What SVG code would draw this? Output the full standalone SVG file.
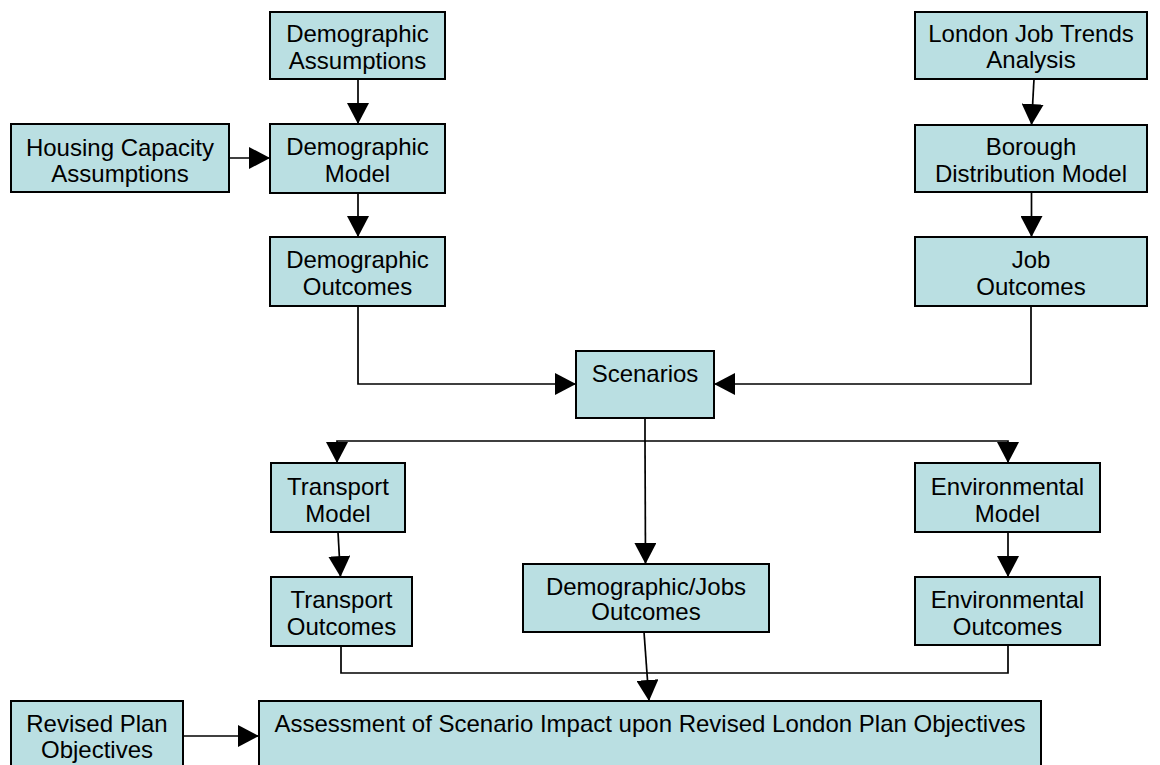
<svg xmlns="http://www.w3.org/2000/svg" width="1160" height="765" viewBox="0 0 1160 765">
<style>
.box{fill:#BADFE2;stroke:#000;stroke-width:2}
.t{font-family:"Liberation Sans",Arial,sans-serif;font-size:24px;fill:#000;text-anchor:middle}
.c{fill:none;stroke:#000;stroke-width:1.7}
.a{marker-end:url(#arr)}
</style>
<defs>
<marker id="arr" markerUnits="userSpaceOnUse" markerWidth="22" markerHeight="22" refX="21" refY="11" orient="auto">
<path d="M0,0 L21,11 L0,22 Z" fill="#000"/>
</marker>
</defs>
<rect width="1160" height="765" fill="#fff"/>
<g id="connectors">
<path class="c a" d="M358,79 L358,124"/>
<path class="c a" d="M229,158 L270,158"/>
<path class="c a" d="M358,193 L358,237"/>
<path class="c a" d="M1034,79 L1031.5,125"/>
<path class="c a" d="M1031.5,192 L1031.5,237"/>
<path class="c a" d="M358,306 L358,384 L576,384"/>
<path class="c a" d="M1031,306 L1031,384 L714,384"/>
<path class="c a" d="M645,418 L645,441 L337,441 L337,463"/>
<path class="c a" d="M645,441 L1008,441 L1008,463"/>
<path class="c a" d="M645,441 L645.5,564"/>
<path class="c a" d="M338,532 L340.5,577"/>
<path class="c a" d="M1008,532 L1008,577"/>
<path class="c" d="M341,646 L341,673 L1008,673 L1008,645"/>
<path class="c a" d="M644,632 L649,701"/>
<path class="c a" d="M183,736 L259,736"/>
</g>
<g id="demographic-assumptions"><rect class="box" x="270" y="12" width="175" height="67"/><text class="t" x="357.5" y="42">Demographic</text><text class="t" x="357.5" y="69">Assumptions</text></g>
<g id="housing-capacity"><rect class="box" x="11" y="124" width="218" height="68"/><text class="t" x="120" y="156">Housing Capacity</text><text class="t" x="120" y="182">Assumptions</text></g>
<g id="demographic-model"><rect class="box" x="270" y="124" width="175" height="69"/><text class="t" x="357.5" y="155">Demographic</text><text class="t" x="357.5" y="182">Model</text></g>
<g id="demographic-outcomes"><rect class="box" x="270" y="237" width="175" height="69"/><text class="t" x="357.5" y="268">Demographic</text><text class="t" x="357.5" y="295">Outcomes</text></g>
<g id="london-job-trends"><rect class="box" x="915" y="12" width="232" height="67"/><text class="t" x="1031" y="42">London Job Trends</text><text class="t" x="1031" y="68">Analysis</text></g>
<g id="borough-distribution"><rect class="box" x="915" y="125" width="232" height="67"/><text class="t" x="1031" y="155">Borough</text><text class="t" x="1031" y="182">Distribution Model</text></g>
<g id="job-outcomes"><rect class="box" x="915" y="237" width="232" height="69"/><text class="t" x="1031" y="268">Job</text><text class="t" x="1031" y="295">Outcomes</text></g>
<g id="scenarios"><rect class="box" x="576" y="351" width="138" height="67"/><text class="t" x="645" y="382">Scenarios</text></g>
<g id="transport-model"><rect class="box" x="271" y="463" width="134" height="69"/><text class="t" x="338" y="495">Transport</text><text class="t" x="338" y="522">Model</text></g>
<g id="transport-outcomes"><rect class="box" x="271" y="577" width="141" height="69"/><text class="t" x="341.5" y="608">Transport</text><text class="t" x="341.5" y="635">Outcomes</text></g>
<g id="demographic-jobs-outcomes"><rect class="box" x="523" y="564" width="246" height="68"/><text class="t" x="646" y="595">Demographic/Jobs</text><text class="t" x="646" y="620">Outcomes</text></g>
<g id="environmental-model"><rect class="box" x="915" y="463" width="185" height="69"/><text class="t" x="1007.5" y="495">Environmental</text><text class="t" x="1007.5" y="522">Model</text></g>
<g id="environmental-outcomes"><rect class="box" x="915" y="577" width="185" height="68"/><text class="t" x="1007.5" y="608">Environmental</text><text class="t" x="1007.5" y="635">Outcomes</text></g>
<g id="revised-plan-objectives"><rect class="box" x="11" y="701" width="172" height="90"/><text class="t" x="97" y="732">Revised Plan</text><text class="t" x="97" y="758">Objectives</text></g>
<g id="assessment"><rect class="box" x="259" y="701" width="782" height="90"/><text class="t" x="650" y="732">Assessment of Scenario Impact upon Revised London Plan Objectives</text></g>
</svg>
